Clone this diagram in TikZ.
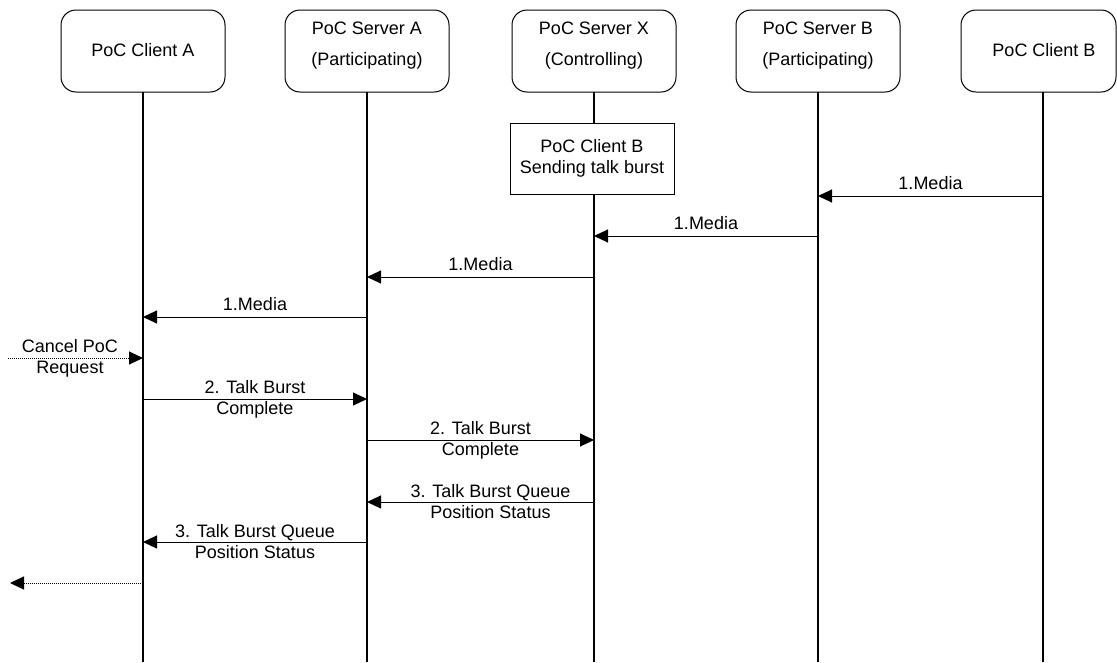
\documentclass[tikz,border=0pt]{standalone}
\usepackage{fontspec}
\setmainfont{Liberation Sans}
\usetikzlibrary{arrows.meta}
\begin{document}
\begin{tikzpicture}[x=1pt,y=-1pt,
  font=\fontsize{18}{21}\selectfont,
  actor/.style={draw, line width=1pt, rounded corners=15pt, minimum width=164pt, minimum height=82pt, inner sep=0pt},
  atext/.style={align=center, inner sep=0pt},
  life/.style={line width=1.3pt},
  msg/.style={line width=1pt, -{Triangle[length=14pt,width=13pt]}},
  dmsg/.style={msg, dash pattern=on 0.8pt off 1.2pt},
  lbl/.style={align=center, inner sep=0pt},
  note/.style={draw, line width=1pt, minimum width=164pt, minimum height=71pt, align=center, inner sep=0pt}]
\useasboundingbox (0,0) rectangle (1117,662);

% actor boxes
\node[actor] (ca) at (143,51) {};
\node[actor] (sa) at (367,51) {};
\node[actor] (sx) at (594,51) {};
\node[actor] (sb) at (818,51) {};
\node[actor, minimum width=155pt] (cb) at (1038.5,51) {};

\node[atext] (tca) at (143,50) {PoC Client A};
\node[atext] (tsa) at (367,46) {PoC Server A\\[10pt](Participating)};
\node[atext] (tsx) at (594,46) {PoC Server X\\[10pt](Controlling)};
\node[atext] (tsb) at (818,46) {PoC Server B\\[10pt](Participating)};
\node[atext] (tcb) at (1044,50) {PoC Client B};

% lifeline ends
\coordinate (eca) at (143,662);
\coordinate (esa) at (367,662);
\coordinate (esx) at (594,662);
\coordinate (esb) at (818,662);
\coordinate (ecb) at (1043,662);

\draw[life] (143,92) -- (eca);
\draw[life] (367,92) -- (esa);
\draw[life] (594,92) -- (esx);
\draw[life] (818,92) -- (esb);
\draw[life] (1043,92) -- (ecb);

% note box
\node[note, fill=white] (nt) at (592,158.5) {PoC Client B\\Sending talk burst};

% message anchor points
\coordinate (cb1) at (1043,196);
\coordinate (sb1) at (818,196);
\coordinate (sb2) at (818,236);
\coordinate (sx2) at (594,236);
\coordinate (sx3) at (594,277);
\coordinate (sa3) at (367,277);
\coordinate (sa4) at (367,317);
\coordinate (ca4) at (143,317);
\coordinate (cs) at (8,358);
\coordinate (ca5) at (143,358);
\coordinate (ca6) at (143,399);
\coordinate (sa6) at (367,399);
\coordinate (sa7) at (367,440);
\coordinate (sx7) at (594,440);
\coordinate (sx8) at (594,502);
\coordinate (sa8) at (367,502);
\coordinate (sa9) at (367,542);
\coordinate (ca9) at (143,542);
\coordinate (ca10) at (143,583);
\coordinate (ce) at (10,583);

% messages
\draw[msg] (cb1) -- node[lbl, above=6pt] (l1) {1.Media} (sb1);
\draw[msg] (sb2) -- node[lbl, above=6pt] (l2) {1.Media} (sx2);
\draw[msg] (sx3) -- node[lbl, above=6pt] (l3) {1.Media} (sa3);
\draw[msg] (sa4) -- node[lbl, above=6pt] (l4) {1.Media} (ca4);
\draw[dmsg] (cs) -- (ca5);
\node[lbl] (l5) at (70,358) {Cancel PoC\\Request};
\draw[msg] (ca6) -- node[lbl] (l6) {2. Talk Burst\\Complete} (sa6);
\draw[msg] (sa7) -- node[lbl] (l7) {2. Talk Burst\\Complete} (sx7);
\draw[msg] (sx8) -- node[lbl, xshift=10pt] (l8) {3. Talk Burst Queue\\Position Status} (sa8);
\draw[msg] (sa9) -- node[lbl] (l9) {3. Talk Burst Queue\\Position Status} (ca9);
\draw[dmsg] (ca10) -- (ce);
\end{tikzpicture}
\end{document}
